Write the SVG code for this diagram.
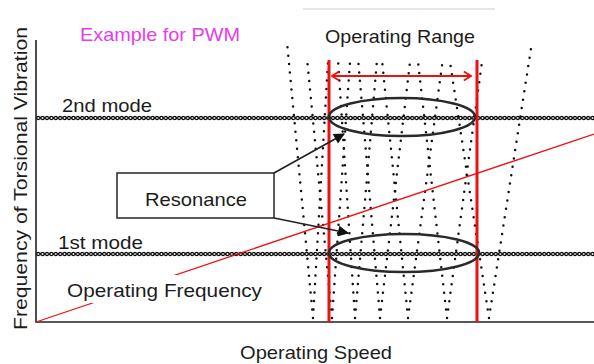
<svg xmlns="http://www.w3.org/2000/svg" width="594" height="364" viewBox="0 0 594 364">
  <style>
    .lbl { font-family: "Liberation Sans", Arial, sans-serif; font-size: 19px; fill: #1c1c1c; }
    .pink { fill: #e83ce8; }
    .dots { fill: none; stroke: #111; stroke-width: 2.5; stroke-linecap: round; stroke-dasharray: 0 8.5; }
    .axis { stroke: #222; stroke-width: 1.6; fill: none; }
    .red { stroke: #ee1111; fill: none; }
    .ell { fill: none; stroke: #2a2a2a; stroke-width: 2.6; }
    .pointer { stroke: #222; stroke-width: 1.7; fill: none; marker-end: url(#solid); }
  </style>
  <defs>
    <pattern id="chain" patternUnits="userSpaceOnUse" x="36" y="0" width="4.4" height="364">
      <circle cx="2.2" cy="118" r="1.6" fill="none" stroke="#000" stroke-width="1.3"/>
      <circle cx="2.2" cy="254" r="1.6" fill="none" stroke="#000" stroke-width="1.3"/>
    </pattern>
    <marker id="solid" viewBox="0 0 10 10" refX="9" refY="5" markerWidth="13" markerHeight="11" markerUnits="userSpaceOnUse" orient="auto">
      <path d="M0,0 L10,5 L0,10 Z" fill="#111"/>
    </marker>
    <marker id="chev" viewBox="0 0 10 12" refX="9" refY="6" markerWidth="9" markerHeight="11" markerUnits="userSpaceOnUse" orient="auto-start-reverse">
      <path d="M1,1 L9,6 L1,11" fill="none" stroke="#ee1111" stroke-width="2"/>
    </marker>
  </defs>

  <rect width="594" height="364" fill="#fff"/>

  <!-- faint rule above the range title -->
  <line x1="303" y1="9" x2="495" y2="9" stroke="#dcdcdc" stroke-width="1.5"/>

  <!-- speed-order lines, fanning out of the speed axis -->
  <g id="orders">
    <path class="dots" d="M313,318 L287,42 M313,318 L328,62"/>
    <path class="dots" d="M332,318 L307,58 M332,318 L350,62"/>
    <path class="dots" d="M355,318 L338,60 M355,318 L377,60"/>
    <path class="dots" d="M380,318 L358,58 M380,318 L410,62"/>
    <path class="dots" d="M408,318 L382,60 M408,318 L443,58"/>
    <path class="dots" d="M447,318 L418,62 M447,318 L482,62"/>
    <path class="dots" d="M489,318 L450,62 M489,318 L532,42"/>
  </g>

  <!-- mode lines -->
  <g id="modes">
    <rect x="36" y="115" width="558" height="6" fill="url(#chain)"/>
    <rect x="36" y="251" width="558" height="6" fill="url(#chain)"/>
  </g>

  <!-- axes -->
  <g id="axes">
    <path class="axis" d="M36,40 L36,322 L594,322"/>
  </g>

  <!-- operating frequency line -->
  <g id="op-frequency">
    <line class="red" x1="36" y1="322" x2="594" y2="134" stroke-width="1.3"/>
    <rect x="62" y="275" width="205" height="28" fill="#fff"/>
    <text class="lbl" x="67" y="297" textLength="195" lengthAdjust="spacingAndGlyphs">Operating Frequency</text>
  </g>

  <!-- operating range limits -->
  <g id="op-range">
    <line class="red" x1="329" y1="60" x2="329" y2="322" stroke-width="3"/>
    <line class="red" x1="477" y1="60" x2="477" y2="322" stroke-width="3"/>
    <line class="red" x1="332" y1="76" x2="471" y2="76" stroke-width="2" marker-start="url(#chev)" marker-end="url(#chev)"/>
    <text class="lbl" x="325" y="43" textLength="150" lengthAdjust="spacingAndGlyphs">Operating Range</text>
  </g>

  <!-- resonance regions -->
  <g id="resonance-2nd">
    <ellipse class="ell" cx="402" cy="117" rx="73" ry="19"/>
  </g>
  <g id="resonance-1st">
    <ellipse class="ell" cx="404" cy="253" rx="75" ry="19"/>
  </g>

  <!-- resonance callout -->
  <g id="resonance-box">
    <rect x="117" y="173" width="157" height="45" fill="#fff" stroke="#333" stroke-width="1.6"/>
    <text class="lbl" x="145" y="206" textLength="102" lengthAdjust="spacingAndGlyphs">Resonance</text>
  </g>
  <g id="connectors">
    <line class="pointer" x1="274" y1="173" x2="344" y2="134"/>
    <line class="pointer" x1="274" y1="218" x2="348" y2="233"/>
  </g>

  <!-- labels -->
  <g id="labels">
    <text class="lbl pink" x="80" y="41" textLength="160" lengthAdjust="spacingAndGlyphs">Example for PWM</text>
    <text class="lbl" x="62" y="112" textLength="90" lengthAdjust="spacingAndGlyphs">2nd mode</text>
    <text class="lbl" x="58" y="249" textLength="85" lengthAdjust="spacingAndGlyphs">1st mode</text>
    <text class="lbl" x="240" y="359" textLength="152" lengthAdjust="spacingAndGlyphs">Operating Speed</text>
    <text class="lbl" transform="translate(27,330) rotate(-90)" x="0" y="0" textLength="303" lengthAdjust="spacingAndGlyphs">Frequency of Torsional Vibration</text>
  </g>
</svg>
